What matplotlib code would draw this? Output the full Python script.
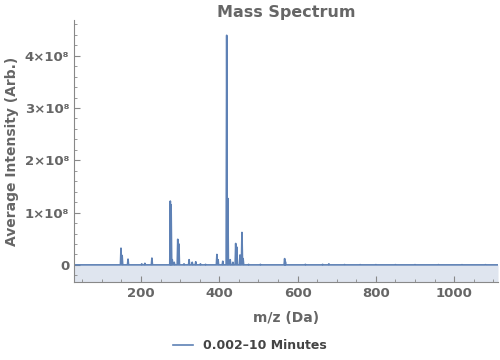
import numpy as np
import matplotlib
matplotlib.use("Agg")
import matplotlib.pyplot as plt
from matplotlib.ticker import FixedLocator, MultipleLocator, FuncFormatter

# peak centres (m/z, Da) and heights (intensity, arb.)
peak_mz = [149, 152, 167, 202, 210, 228, 275, 277, 280, 285, 294, 297, 310,
           323, 331, 340, 352, 365, 394, 397, 409, 419, 422, 428, 435, 442,
           445, 453, 458, 461, 475, 505, 567, 569, 620, 664, 680, 720, 760,
           800, 850, 900, 960, 1020, 1080]
peak_int = [0.32e8, 0.18e8, 0.11e8, 0.02e8, 0.03e8, 0.13e8, 1.22e8, 1.15e8,
            0.10e8, 0.05e8, 0.49e8, 0.40e8, 0.02e8, 0.10e8, 0.05e8, 0.06e8,
            0.02e8, 0.01e8, 0.20e8, 0.10e8, 0.07e8, 4.39e8, 1.27e8, 0.10e8,
            0.05e8, 0.41e8, 0.34e8, 0.19e8, 0.62e8, 0.12e8, 0.01e8, 0.01e8,
            0.12e8, 0.06e8, 0.01e8, 0.01e8, 0.02e8, 0.006e8, 0.005e8, 0.005e8,
            0.005e8, 0.005e8, 0.005e8, 0.004e8, 0.004e8]
mz_range = (29, 1112)

legend_label = "0.002–10 Minutes"
line_color = "#5e81b5"
grey = "#666666"


def _spectrum(mz, inten, lo, hi, half_width=1.4):
    xs, ys = [lo], [0.0]
    for m, h in sorted(zip(mz, inten)):
        xs += [m - half_width, m, m + half_width]
        ys += [0.0, h, 0.0]
    xs.append(hi)
    ys.append(0.0)
    return np.array(xs), np.array(ys)


x, y = _spectrum(peak_mz, peak_int, *mz_range)

fig = plt.figure(figsize=(5, 3.6), dpi=100)
ax = fig.add_axes([0.148, 0.217, 0.848, 0.727])

ymin, ymax = -0.325e8, 4.68e8
ax.fill_between(x, y, ymin, color="#dfe5ef", linewidth=0)
ax.plot(x, y, color=line_color, linewidth=1.2)

ax.set_xlim(*mz_range)
ax.set_ylim(ymin, ymax)

for side in ("top", "right"):
    ax.spines[side].set_visible(False)
for side in ("left", "bottom"):
    ax.spines[side].set_color("#888888")
    ax.spines[side].set_linewidth(0.8)

ax.xaxis.set_major_locator(FixedLocator([200, 400, 600, 800, 1000]))
ax.xaxis.set_minor_locator(MultipleLocator(50))
ax.yaxis.set_major_locator(FixedLocator([0, 1e8, 2e8, 3e8, 4e8]))
ax.yaxis.set_minor_locator(MultipleLocator(0.2e8))


def _fmt(v, _pos):
    n = int(round(v / 1e8))
    return "0" if n == 0 else f"{n}×10⁸"


ax.yaxis.set_major_formatter(FuncFormatter(_fmt))
ax.tick_params(which="both", direction="in", color="#888888", labelcolor=grey,
               labelsize=9.5)
ax.tick_params(which="major", length=4, width=0.8)
ax.tick_params(which="minor", length=2.2, width=0.6)
for lab in ax.get_xticklabels() + ax.get_yticklabels():
    lab.set_fontweight("bold")

ax.set_title("Mass Spectrum", color=grey, fontsize=11.5, fontweight="bold", pad=2)
ax.set_xlabel("m/z (Da)", color=grey, fontsize=10, fontweight="bold", labelpad=8)
ax.set_ylabel("Average Intensity (Arb.)", color=grey, fontsize=10,
              fontweight="bold", labelpad=4)

leg = fig.legend([plt.Line2D([], [], color=line_color, linewidth=1.2)],
                 [legend_label], loc="center", bbox_to_anchor=(0.5, 0.04),
                 frameon=False, handlelength=1.6,
                 prop={"weight": "bold", "size": 9})
for t in leg.get_texts():
    t.set_color("#444444")

fig.savefig("out.png", dpi=100)
